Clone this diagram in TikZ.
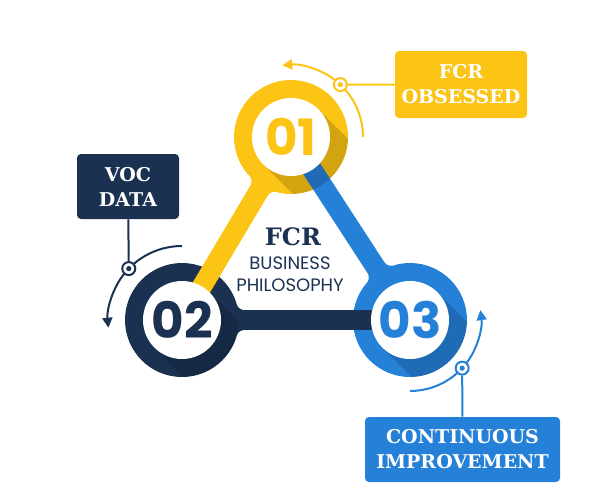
\documentclass[tikz,border=0pt]{standalone}
\usepackage{fontspec}
\usetikzlibrary{arrows.meta}
\setmainfont{DejaVu Serif}
\newfontfamily\numfont{Poppins}
\definecolor{fcryellow}{HTML}{FCC414}
\definecolor{fcrnavy}{HTML}{1B3152}
\definecolor{fcrblue}{HTML}{2580D8}

\tikzset{
  bar/.style={line width=10pt, draw=#1},
  num/.style={font=\numfont\bfseries\fontsize{25}{25}\selectfont, inner sep=0pt},
  tagbox/.style={fill=#1, rounded corners=2pt, text=white, align=center,
    font=\bfseries\fontsize{9.5}{12.5}\selectfont, inner sep=0pt},
  turn/.style={draw=#1, line width=1pt, -{Triangle[length=5pt,width=5pt]}},
  link/.style={draw=#1, line width=1pt},
  marker/.style={circle, draw=#1, fill=white, line width=1pt, minimum size=6.5pt,
    inner sep=0pt, path picture={\fill[#1] (path picture bounding box.center) circle (1.3pt);}}
}

\begin{document}
\begin{tikzpicture}[x=0.5pt,y=0.5pt]
  \useasboundingbox (0,0) rectangle (600,500);
  \coordinate (c1) at (291,363);
  \coordinate (c2) at (182,180);
  \coordinate (c3) at (410,180);
  % rings
  \fill[fcryellow] (c1) circle (57);
  \fill[fcrnavy] (c2) circle (57);
  \fill[fcrblue] (c3) circle (57);
  % rounded joints where each ring meets its own bar
  \foreach \c/\a/\col in {c1/239.2/fcryellow, c2/0/fcrnavy, c3/123/fcrblue}{
    \begin{scope}[shift={(\c)}, rotate=\a]
      \fill[\col] (0,0) -- (62.5,18) -- (62.5,-18) -- cycle;
      \fill[white] (62.5,18) circle (8) (62.5,-18) circle (8);
    \end{scope}
  }
  % bars between the rings
  \draw[bar=fcryellow] (c1) -- (c2);
  \draw[bar=fcrblue] (c1) -- (c3);
  \draw[bar=fcrnavy] (c2) -- (c3);
  % long shadows, then the holes
  \foreach \c in {c1,c2,c3}{
    \begin{scope}
      \clip (\c) circle (57);
      \fill[black, opacity=0.16, shift={(\c)}, rotate=-45] (0,-39) rectangle (130,39);
    \end{scope}
    \fill[white] (\c) circle (39);
  }
  \node[num, text=fcryellow] (n1) at (c1) {01};
  \node[num, text=fcrnavy] (n2) at (c2) {02};
  \node[num, text=fcrblue] (n3) at (c3) {03};
  % centre title
  \node[text=fcrnavy, font=\bfseries\fontsize{12}{12}\selectfont] (title) at (293,263) {FCR};
  \node[text=fcrnavy, font=\numfont\fontsize{9}{11}\selectfont, align=center] (sub) at (290,226) {BUSINESS\\PHILOSOPHY};
  % turning arrows
  \draw[turn=fcryellow] ([shift={(0:72)}]c1) arc[start angle=0, end angle=97, radius=72];
  \draw[turn=fcrnavy] ([shift={(90:74)}]c2) arc[start angle=90, end angle=186, radius=74];
  \draw[turn=fcrblue] ([shift={(-90:71)}]c3) arc[start angle=-90, end angle=8, radius=71];
  \node[marker=fcryellow] (m1) at ([shift={(46.7:72)}]c1) {};
  \node[marker=fcrnavy] (m2) at ([shift={(136:74)}]c2) {};
  \node[marker=fcrblue] (m3) at ([shift={(-42.7:71)}]c3) {};
  % labels
  \node[tagbox=fcryellow, minimum width=66pt, minimum height=33.5pt] (obsessed) at (461,415.5) {FCR\\OBSESSED};
  \node[tagbox=fcrnavy, minimum width=51pt, minimum height=32.5pt] (voc) at (128,313.5) {VOC\\DATA};
  \node[tagbox=fcrblue, minimum width=97.5pt, minimum height=32.5pt] (improve) at (462.5,50.5) {CONTINUOUS\\IMPROVEMENT};
  \draw[link=fcryellow] (obsessed) -- (m1);
  \draw[link=fcrnavy] (voc) -- (m2);
  \draw[link=fcrblue] (improve) -- (m3);
\end{tikzpicture}
\end{document}
